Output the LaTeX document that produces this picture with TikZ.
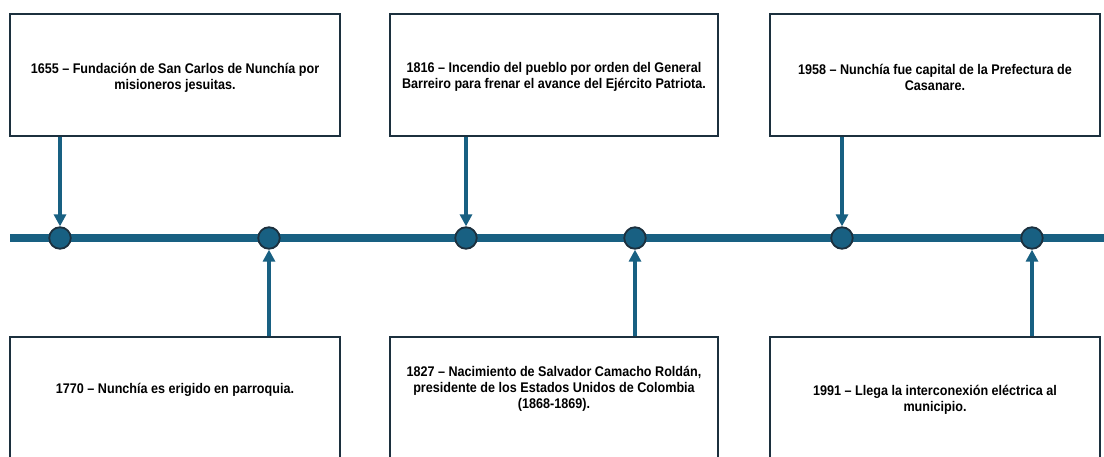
\documentclass[tikz,border=0pt]{standalone}
\usepackage{fontspec}
\setmainfont[FakeStretch=0.9]{Liberation Sans}
\usetikzlibrary{arrows.meta}
\definecolor{tlblue}{RGB}{24,96,130}
\definecolor{tldark}{RGB}{28,48,62}
\tikzset{
  evbox/.style={draw=tldark, line width=2pt, fill=white, rectangle,
    minimum width=330pt, minimum height=122pt, inner sep=0pt},
  evtext/.style={align=center, inner sep=0pt,
    font=\bfseries\fontsize{14pt}{16pt}\selectfont},
  dot/.style={circle, draw=tldark, line width=1.8pt, fill=tlblue,
    minimum size=21.5pt, inner sep=0pt},
  arr/.style={draw=tlblue, line width=4pt, -{Triangle[width=12pt,length=12pt]}},
  tline/.style={draw=tlblue, line width=8pt}
}
\begin{document}
\begin{tikzpicture}[x=1pt,y=-1pt]
\path[use as bounding box, clip] (0,0) rectangle (1104,456);
\fill[white] (0,0) rectangle (1104,456);
\coordinate (t0) at (10,238);
\coordinate (t1) at (1110,238);
\draw[tline] (t0) -- (t1);
\node[dot] (c1) at (60,238) {};
\node[dot] (c2) at (269,238) {};
\node[dot] (c3) at (466,238) {};
\node[dot] (c4) at (635,238) {};
\node[dot] (c5) at (842,238) {};
\node[dot] (c6) at (1032,238) {};
\node[evbox] (b1) at (175,75) {};
\node[evbox, minimum width=328pt] (b3) at (554,75) {};
\node[evbox] (b5) at (935,75) {};
\node[evbox] (b2) at (175,398) {};
\node[evbox, minimum width=328pt] (b4) at (554,398) {};
\node[evbox] (b6) at (935,398) {};
\node[evtext] (x1) at (175,78) {1655 -- Fundación de San Carlos de Nunchía por\\misioneros jesuitas.};
\node[evtext] (x3) at (554,77) {1816 -- Incendio del pueblo por orden del General\\Barreiro para frenar el avance del Ejército Patriota.};
\node[evtext] (x5) at (935,77) {1958 -- Nunchía fue capital de la Prefectura de\\Casanare.};
\node[evtext] (x2) at (175,390) {1770 -- Nunchía es erigido en parroquia.};
\node[evtext] (x4) at (554,389) {1827 -- Nacimiento de Salvador Camacho Roldán,\\presidente de los Estados Unidos de Colombia\\(1868-1869).};
\node[evtext] (x6) at (935,400) {1991 -- Llega la interconexión eléctrica al\\municipio.};
\draw[arr] (c1 |- b1.south) -- (c1.north);
\draw[arr] (c3 |- b3.south) -- (c3.north);
\draw[arr] (c5 |- b5.south) -- (c5.north);
\draw[arr] (c2 |- b2.north) -- (c2.south);
\draw[arr] (c4 |- b4.north) -- (c4.south);
\draw[arr] (c6 |- b6.north) -- (c6.south);
\end{tikzpicture}
\end{document}
